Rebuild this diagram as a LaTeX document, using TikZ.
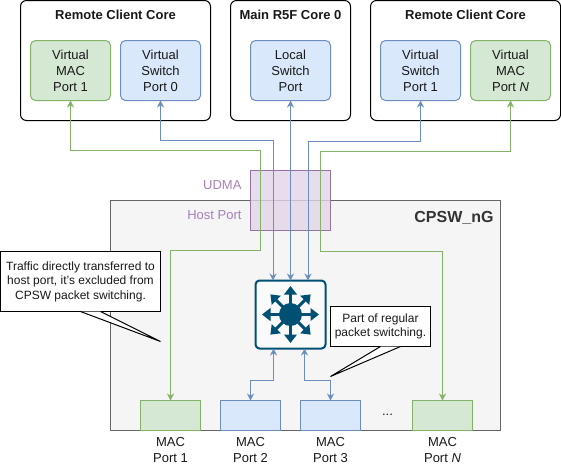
\documentclass[tikz,border=0pt]{standalone}
\usepackage{fontspec}
\setmainfont{Liberation Sans}
\usetikzlibrary{arrows.meta}
\usetikzlibrary{calc,positioning}
\definecolor{greenfill}{HTML}{D5E8D4}
\definecolor{greenline}{HTML}{82B366}
\definecolor{bluefill}{HTML}{DAE8FC}
\definecolor{blueline}{HTML}{6C8EBF}
\definecolor{purplefill}{HTML}{E1D5E7}
\definecolor{purpleline}{HTML}{9673A6}
\definecolor{purpletext}{HTML}{A680B8}
\definecolor{swcolor}{HTML}{005073}
\begin{document}
\begin{tikzpicture}[x=1pt, y=-1pt, >={Stealth[length=7pt,width=7pt]},
every node/.style={outer sep=0pt, inner sep=0pt, align=center, text=black!90, font=\fontsize{13}{16}\selectfont},
core/.style={draw=black, line width=1pt, rounded corners=6pt, fill=white, minimum width=#1, minimum height=120pt},
vgreen/.style={draw=greenline, fill=greenfill, line width=1pt, rounded corners=5pt, minimum width=80pt, minimum height=60pt},
vblue/.style={draw=blueline, fill=bluefill, line width=1pt, rounded corners=5pt, minimum width=80pt, minimum height=60pt},
macgreen/.style={draw=greenline, fill=greenfill, line width=1pt, minimum width=60pt, minimum height=30pt},
macblue/.style={draw=blueline, fill=bluefill, line width=1pt, minimum width=60pt, minimum height=30pt},
greenlink/.style={draw=greenline, line width=1pt, <->},
bluelink/.style={draw=blueline, line width=1pt, <->},
note/.style={draw=black, line width=1pt, fill=white, font=\fontsize{12}{14.5}\selectfont},
swarrow/.style={draw=swcolor, line width=3pt, -{Triangle[length=8.5pt,width=12.5pt]}}]

    \useasboundingbox (-0.5,-0.5) rectangle (560.5,466.5);

    % cores
    \node[core=190pt] (core1) at (115,60) {};
    \node[core=120pt] (core2) at (290,60) {};
    \node[core=190pt] (core3) at (465,60) {};
    \node[font=\fontsize{13}{16}\selectfont\bfseries] (title1) at (115,14) {Remote Client Core};
    \node[font=\fontsize{13}{16}\selectfont\bfseries] (title2) at (290,14) {Main R5F Core 0};
    \node[font=\fontsize{13}{16}\selectfont\bfseries] (title3) at (465,14) {Remote Client Core};

    \node[vgreen] (vmac1) at (70,70) {Virtual\\MAC\\Port 1};
    \node[vblue] (vsw0) at (160,70) {Virtual\\Switch\\Port 0};
    \node[vblue] (lsw) at (290,70) {Local\\Switch\\Port};
    \node[vblue] (vsw1) at (420,70) {Virtual\\Switch\\Port 1};
    \node[vgreen] (vmacn) at (510,70) {Virtual\\MAC\\Port \textit{N}};

    % switch block
    \node[draw=black!60, fill=black!4, line width=1pt, minimum width=390pt, minimum height=230pt] (cpsw) at (305,315) {};
    \node[draw=purpleline, fill=purplefill, fill opacity=0.8, line width=1pt, minimum width=80pt, minimum height=60pt] (udma) at (290,200) {};
    \node[anchor=east, text=purpletext] (udmalabel) at (241,185) {UDMA};
    \node[anchor=east, text=purpletext] (hostlabel) at (241,215) {Host Port};
    \node[anchor=east, text=black!80, font=\fontsize{16}{18}\selectfont\bfseries] (cpswlabel) at (493,217) {CPSW\_nG};

    \node[draw=swcolor, fill=black!2, line width=2pt, rounded corners=4pt, minimum width=70pt, minimum height=68pt] (sw) at (290,314) {};
    \foreach \ang in {0,45,...,315}
        \draw[swarrow] (sw.center) -- ++(\ang:28.5);
    \fill[swcolor] (sw.center) circle (11.5);

    \node[macgreen] (mac1) at (170,415) {};
    \node[macblue] (mac2) at (250,415) {};
    \node[macblue] (mac3) at (330,415) {};
    \node[macgreen] (macn) at (442,415) {};
    \node (dots) at (387,414) {...};
    \node (mac1label) at (170,450) {MAC\\Port 1};
    \node (mac2label) at (250,450) {MAC\\Port 2};
    \node (mac3label) at (330,450) {MAC\\Port 3};
    \node (macnlabel) at (442,450) {MAC\\Port \textit{N}};

    % data paths
    \draw[greenlink] (mac1.north) |- (260,250) -- (260,150) -| (vmac1.south);
    \draw[greenlink] (macn.north) |- (320,251) -- (320,151) -| (vmacn.south);
    \draw[bluelink] (vsw0.south) -- ++(0,40) -| ([xshift=-17.5pt]sw.north);
    \draw[bluelink] (vsw1.south) -- ++(0,41) -| ([xshift=17.5pt]sw.north);
    \draw[bluelink] (lsw.south) -- (sw.north);
    \draw[bluelink] (mac2.north) -- ++(0,-20) -| ([xshift=-17pt]sw.south);
    \draw[bluelink] (mac3.north) -- ++(0,-20) -| ([xshift=14pt]sw.south);

    % callouts
    \node[note, minimum width=160pt, minimum height=60pt] (note1) at (80,281) {Traffic directly transferred to\\host port, it's excluded from\\CPSW packet switching.};
    \coordinate (tip1) at (160,341);
    \draw[fill=white, line width=1pt] (note1.south) -- (tip1) -- ([xshift=20pt]note1.south);
    \node[note, minimum width=100pt, minimum height=40pt] (note2) at (380,326) {Part of regular\\packet switching.};
    \coordinate (tip2) at (330,376);
    \draw[fill=white, line width=1pt] (note2.south) -- (tip2) -- ([xshift=20pt]note2.south);

\end{tikzpicture}
\end{document}
